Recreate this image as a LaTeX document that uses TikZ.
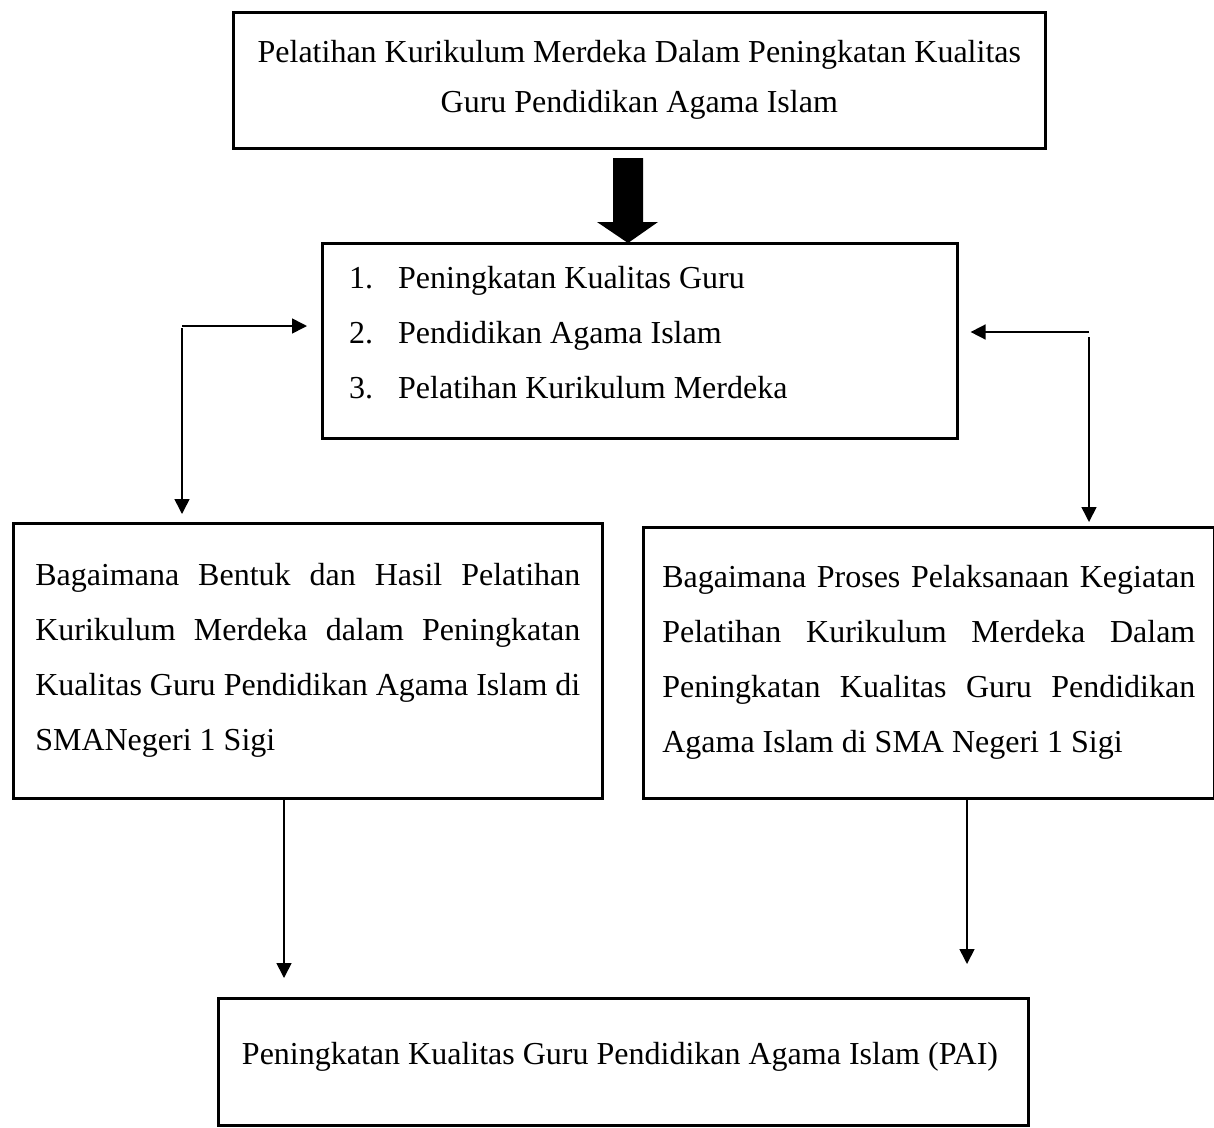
\documentclass[tikz,border=0pt]{standalone}
\usepackage{fontspec}
\setmainfont{Liberation Serif}
\usetikzlibrary{arrows.meta,calc}
\begin{document}
\begin{tikzpicture}[x=1pt,y=-1pt,
  box/.style={draw, line width=2.6pt, inner sep=0pt, anchor=north west},
  txt/.style={font=\fontsize{32}{55}\selectfont},
  conn/.style={line width=1.6pt, -{Triangle[length=15pt,width=15pt]}}]
\useasboundingbox (0,0) rectangle (1214,1127);
% boxes
\node[box, txt, minimum width=812pt, minimum height=136pt, align=center,
  font=\fontsize{32}{50}\selectfont] (T) at (232,11)
  {Pelatihan Kurikulum Merdeka Dalam Peningkatan Kualitas\\Guru Pendidikan Agama Islam};
\node[box, minimum width=635pt, minimum height=195pt] (M) at (321,242) {};
\node[txt, anchor=west, align=left, inner sep=0pt] (Mt) at (349,333)
  {\makebox[49pt][l]{1.}Peningkatan Kualitas Guru\\
   \makebox[49pt][l]{2.}Pendidikan Agama Islam\\
   \makebox[49pt][l]{3.}Pelatihan Kurikulum Merdeka};
\node[box, txt, minimum width=589pt, minimum height=275pt, text width=545pt, align=justify] (L) at (12,522)
  {Bagaimana Bentuk dan Hasil Pelatihan\linebreak
   Kurikulum Merdeka dalam Peningkatan\linebreak
   Kualitas Guru Pendidikan Agama Islam di\linebreak
   SMANegeri 1 Sigi};
\node[box, txt, minimum width=571pt, minimum height=271pt, text width=533pt, align=justify] (R) at (642,526)
  {Bagaimana Proses Pelaksanaan Kegiatan\linebreak
   Pelatihan Kurikulum Merdeka Dalam\linebreak
   Peningkatan Kualitas Guru Pendidikan\linebreak
   Agama Islam di SMA Negeri 1 Sigi};
\node[box, minimum width=810pt, minimum height=127pt] (B) at (217,997) {};
\node[txt, inner sep=0pt] (Bt) at (620,1057) {Peningkatan Kualitas Guru Pendidikan Agama Islam (PAI)};
% big arrow
\fill (613,158) -- (643,158) -- (643,222) -- (658,222) -- (628,243) -- (597,222) -- (613,222) -- cycle;
% connectors
\coordinate (cl) at (182,326);
\coordinate (cr) at (1089,332);
\draw[conn] (cl) -- ($(M.west |- cl)+(-14,0)$);
\draw[conn] ($(cl)+(0,2)$) -- ($(cl |- L.north)+(0,-8)$);
\draw[conn] (cr) -- ($(M.east |- cr)+(12,0)$);
\draw[conn] ($(cr)+(0,5)$) -- ($(cr |- R.north)+(0,-4)$);
\draw[conn] (L.south -| 284,0) -- ($(B.north -| 284,0)+(0,-19)$);
\draw[conn] (R.south -| 967,0) -- ($(B.north -| 967,0)+(0,-33)$);
\end{tikzpicture}
\end{document}
